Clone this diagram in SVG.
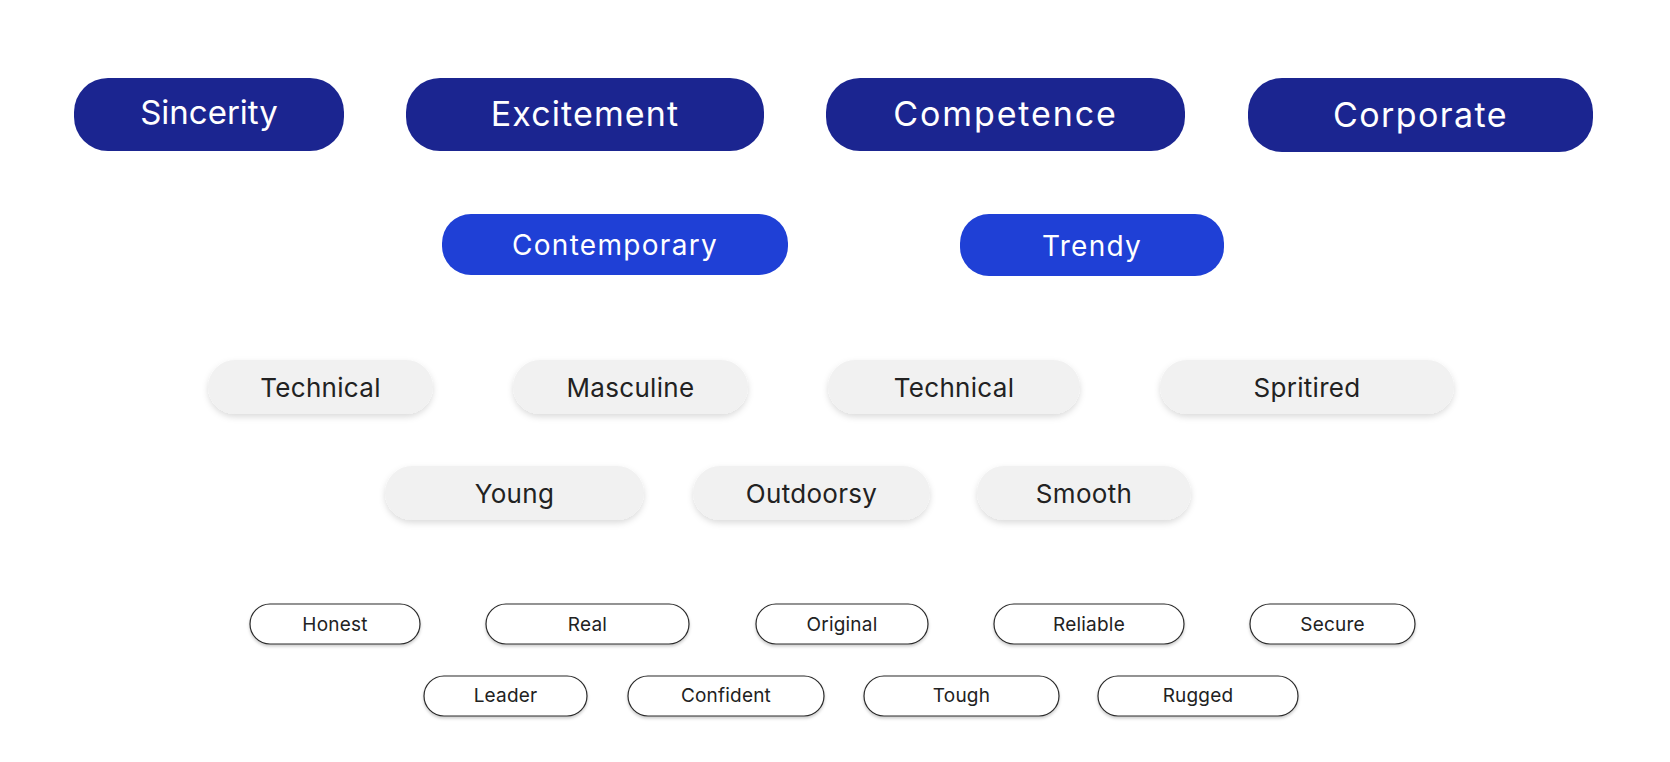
<svg xmlns="http://www.w3.org/2000/svg" width="1670" height="762" viewBox="0 0 1670 762">
<defs>
<filter id="sh" x="-10%" y="-30%" width="120%" height="180%">
<feDropShadow dx="0" dy="3" stdDeviation="3" flood-color="#000" flood-opacity="0.14"/>
</filter>
<filter id="sh2" x="-10%" y="-30%" width="120%" height="180%">
<feDropShadow dx="0" dy="2" stdDeviation="1.5" flood-color="#000" flood-opacity="0.2"/>
</filter>
</defs>
<style>
text{font-family:Inter,"Open Sans","Liberation Sans",sans-serif;text-anchor:middle}
.p1{fill:#1b2590}
.p2{fill:#1f40d6}
.p3{fill:#f1f1f1;filter:url(#sh)}
.p4{fill:#fff;stroke:#2a2a2a;stroke-width:1.2;filter:url(#sh2)}
.t1{fill:#fff;font-size:34px;letter-spacing:1.5px}
.t2{fill:#fff;font-size:28px;letter-spacing:1.3px}
.t3{fill:#222;font-size:26px;letter-spacing:0.3px}
.t4{fill:#222;font-size:19px;letter-spacing:0.2px}
</style>
<rect width="1670" height="762" fill="#fff"/>
<g id="sincerity"><rect class="p1" x="74" y="78" width="270" height="73" rx="34"/><text class="t1" x="209" y="124" style="font-size:33px;letter-spacing:0">Sincerity</text></g>
<g id="excitement"><rect class="p1" x="406" y="78" width="358" height="73" rx="34"/><text class="t1" x="585" y="126" style="letter-spacing:1.1px">Excitement</text></g>
<g id="competence"><rect class="p1" x="826" y="78" width="359" height="73" rx="34"/><text class="t1" x="1005.5" y="126" style="letter-spacing:1.9px">Competence</text></g>
<g id="corporate"><rect class="p1" x="1248" y="78" width="345" height="74" rx="34"/><text class="t1" x="1420.5" y="127" style="letter-spacing:1.4px">Corporate</text></g>
<g id="contemporary"><rect class="p2" x="442" y="214" width="346" height="61" rx="29"/><text class="t2" x="615" y="255">Contemporary</text></g>
<g id="trendy"><rect class="p2" x="960" y="214" width="264" height="62" rx="29"/><text class="t2" x="1092" y="256">Trendy</text></g>
<g id="technical1"><rect class="p3" x="208" y="360" width="225" height="54" rx="27"/><text class="t3" x="320.5" y="397">Technical</text></g>
<g id="masculine"><rect class="p3" x="513" y="360" width="235" height="54" rx="27"/><text class="t3" x="630.5" y="397">Masculine</text></g>
<g id="technical2"><rect class="p3" x="828" y="360" width="252" height="54" rx="27"/><text class="t3" x="954" y="397">Technical</text></g>
<g id="spritired"><rect class="p3" x="1160" y="360" width="294" height="54" rx="27"/><text class="t3" x="1307" y="397">Spritired</text></g>
<g id="young"><rect class="p3" x="385" y="466" width="259" height="54" rx="27"/><text class="t3" x="514.5" y="503">Young</text></g>
<g id="outdoorsy"><rect class="p3" x="693" y="466" width="237" height="54" rx="27"/><text class="t3" x="811.5" y="503">Outdoorsy</text></g>
<g id="smooth"><rect class="p3" x="977" y="466" width="214" height="54" rx="27"/><text class="t3" x="1084" y="503">Smooth</text></g>
<g id="honest"><rect class="p4" x="250" y="604" width="170" height="40" rx="20"/><text class="t4" x="335" y="630.5">Honest</text></g>
<g id="real"><rect class="p4" x="486" y="604" width="203" height="40" rx="20"/><text class="t4" x="587.5" y="630.5">Real</text></g>
<g id="original"><rect class="p4" x="756" y="604" width="172" height="40" rx="20"/><text class="t4" x="842" y="630.5">Original</text></g>
<g id="reliable"><rect class="p4" x="994" y="604" width="190" height="40" rx="20"/><text class="t4" x="1089" y="630.5">Reliable</text></g>
<g id="secure"><rect class="p4" x="1250" y="604" width="165" height="40" rx="20"/><text class="t4" x="1332.5" y="630.5">Secure</text></g>
<g id="leader"><rect class="p4" x="424" y="676" width="163" height="40" rx="20"/><text class="t4" x="505.5" y="702">Leader</text></g>
<g id="confident"><rect class="p4" x="628" y="676" width="196" height="40" rx="20"/><text class="t4" x="726" y="702">Confident</text></g>
<g id="tough"><rect class="p4" x="864" y="676" width="195" height="40" rx="20"/><text class="t4" x="961.5" y="702">Tough</text></g>
<g id="rugged"><rect class="p4" x="1098" y="676" width="200" height="40" rx="20"/><text class="t4" x="1198" y="702">Rugged</text></g>
<g id="connectors"></g>
</svg>
